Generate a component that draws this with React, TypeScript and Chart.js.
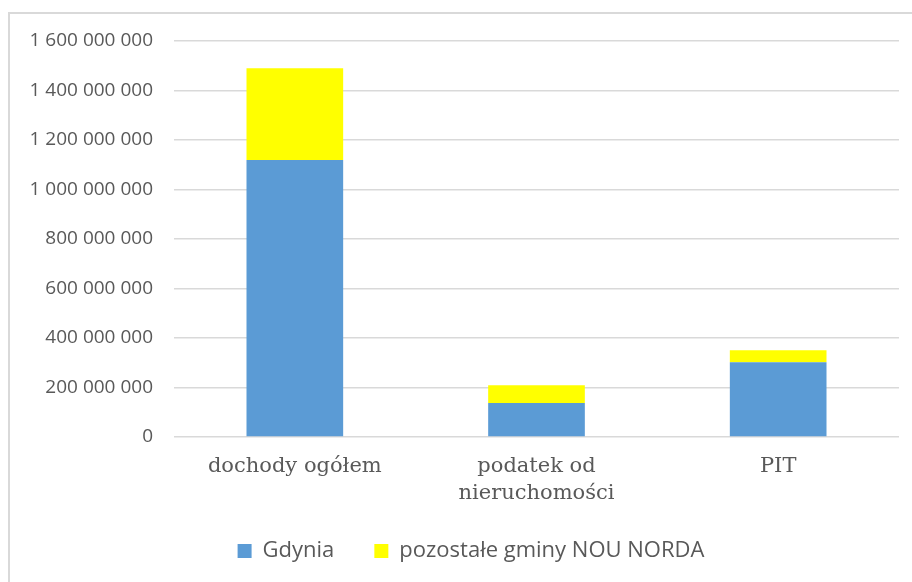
import React, { useEffect, useRef } from "react";
import { Chart, registerables } from "chart.js";

Chart.register(...registerables);

// Categories and stacked series (PLN)
const categories: (string | string[])[] = [
  "dochody ogółem",
  ["podatek od", "nieruchomości"],
  "PIT",
];
const gdynia = [1119000000, 137000000, 302000000];
const pozostale = [371000000, 72000000, 49000000];

const seriesNames = ["Gdynia", "pozostałe gminy NOU NORDA"];
const yMin = 0;
const yMax = 1600000000;
const yStep = 200000000;

const formatPl = (v: number) =>
  String(Math.round(v)).replace(/\B(?=(\d{3})+(?!\d))/g, " ");

const W = 912;
const H = 582;

// Nudges the legend block so it centres under the whole chart frame
const legendShift = {
  id: "legendShift",
  afterLayout(chart: any) {
    if (chart.legend) chart.legend.left += 19;
  },
};

export default function App() {
  const canvasRef = useRef<HTMLCanvasElement | null>(null);

  useEffect(() => {
    if (!canvasRef.current) return;
    const chart = new Chart(canvasRef.current, {
      type: "bar",
      data: {
        labels: categories,
        datasets: [
          {
            label: seriesNames[0],
            data: gdynia,
            backgroundColor: "#5B9BD5",
            borderWidth: 0,
            barPercentage: 0.4,
            categoryPercentage: 1,
          },
          {
            label: seriesNames[1],
            data: pozostale,
            backgroundColor: "#FFFF00",
            borderWidth: 0,
            barPercentage: 0.4,
            categoryPercentage: 1,
          },
        ],
      },
      options: {
        responsive: false,
        animation: false,
        layout: { padding: { left: 24, right: 13, top: 41, bottom: 10 } },
        scales: {
          x: {
            stacked: true,
            grid: { display: false, drawTicks: false },
            border: { display: false },
            ticks: {
              padding: 17,
              color: "#595959",
              maxRotation: 0,
              autoSkip: false,
              font: { family: "'DejaVu Serif'", size: 21, lineHeight: 1.24 },
            },
            afterFit: (scale: any) => {
              scale.height = 63;
            },
          },
          y: {
            stacked: true,
            min: yMin,
            max: yMax,
            grid: { color: "#d9d9d9", lineWidth: 1.5, drawTicks: false },
            border: { display: false },
            ticks: {
              stepSize: yStep,
              padding: 21,
              color: "#595959",
              font: { family: "'Open Sans'", size: 19 },
              callback: (v: any) => formatPl(Number(v)),
            },
            afterFit: (scale: any) => {
              scale.width = 150;
            },
          },
        },
        plugins: {
          legend: {
            position: "bottom",
            labels: {
              boxWidth: 14,
              boxHeight: 14,
              padding: 40,
              color: "#595959",
              font: { family: "'Open Sans'", size: 22 },
            },
          },
          tooltip: { enabled: false },
        },
      },
      plugins: [legendShift],
    });
    return () => chart.destroy();
  }, []);

  return (
    <div
      style={{
        position: "fixed",
        left: 0,
        top: 0,
        width: W,
        height: H,
        background: "#ffffff",
        overflow: "hidden",
      }}
    >
      <div
        style={{
          position: "absolute",
          left: 8,
          top: 12,
          width: W + 20,
          height: H + 20,
          borderTop: "2px solid #d9d9d9",
          borderLeft: "2px solid #d9d9d9",
          boxSizing: "border-box",
        }}
      />
      <canvas
        ref={canvasRef}
        width={W}
        height={H}
        style={{ position: "absolute", left: 0, top: 0, width: W, height: H }}
      />
    </div>
  );
}
